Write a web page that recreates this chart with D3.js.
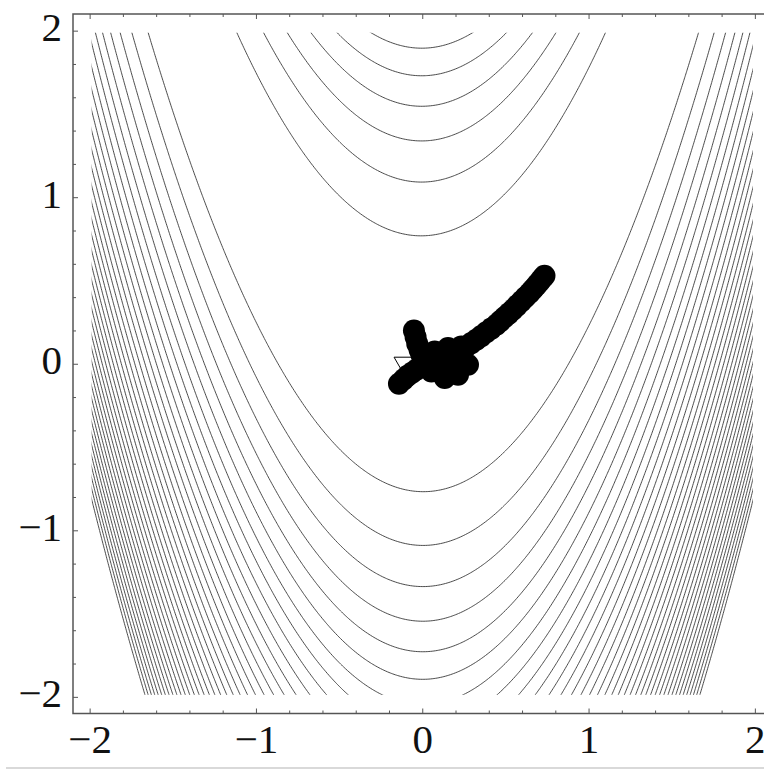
<!DOCTYPE html>
<html lang="en">
<head>
<meta charset="utf-8" />
<title>Rosenbrock contours</title>
<script src="https://cdnjs.cloudflare.com/ajax/libs/d3/7.8.5/d3.min.js"></script>
<style>
  body { margin: 0; background: #fff; }
  svg text { font-family: "Liberation Serif", "Times New Roman", serif; font-size: 41px; fill: #111; }
  .contour { fill: none; stroke: #2a2a2a; stroke-width: 0.85px; }
  .frame { fill: none; stroke: #555; stroke-width: 1.5px; }
  .axis line { stroke: #555; }
</style>
</head>
<body>
<svg id="chart" width="764" height="770"></svg>
<script>
// contour levels of f(x,y) = 100 (y - x^2)^2 + (1 - x)^2
const contourLevels = [60, 120, 180, 240, 300, 360, 420, 480, 540, 600, 660, 720, 780, 840, 900,
  960, 1020, 1080, 1140, 1200, 1260, 1320, 1380, 1440, 1500, 1560, 1620, 1680, 1740, 1800,
  1860, 1920, 1980, 2040, 2100, 2160, 2220, 2280];
const majorTicks = [-2, -1, 0, 1, 2];
const minorTicks = [-1.8, -1.6, -1.4, -1.2, -0.8, -0.6, -0.4, -0.2, 0.2, 0.4, 0.6, 0.8, 1.2, 1.4, 1.6, 1.8];
// optimisation iterates (x, y)
const pathPoints = [
  [-0.050, 0.200], [-0.040, 0.160], [-0.030, 0.120], [-0.016, 0.084], [-0.005, 0.054],
  [-0.140, -0.120], [-0.112, -0.094], [-0.088, -0.072], [-0.062, -0.054], [-0.036, -0.036],
  [0.020, 0.010], [0.075, 0.074], [0.100, 0.000], [0.155, 0.094], [0.235, 0.104],
  [0.055, -0.046], [0.135, -0.086], [0.215, -0.066], [0.275, -0.006], [0.175, 0.014],
  [0.265, 0.104], [0.295, 0.124], [0.325, 0.144], [0.355, 0.166], [0.385, 0.189],
  [0.415, 0.211], [0.446, 0.234], [0.470, 0.256], [0.495, 0.279], [0.520, 0.301],
  [0.545, 0.324], [0.570, 0.349], [0.595, 0.374], [0.620, 0.399], [0.646, 0.425],
  [0.666, 0.447], [0.686, 0.470], [0.705, 0.492], [0.722, 0.513], [0.735, 0.528]
];
const startPoint = [-0.110, 0.005];

const svg = d3.select("#chart");
const x = d3.scaleLinear().domain([-2.1, 2.1]).range([73, 771.5]);
const y = d3.scaleLinear().domain([-2.1, 2.1]).range([713.5, 14]);

// sample the function on a grid
const n = 401;
const gx = d3.scaleLinear().domain([0, n - 1]).range([-2, 2]);
const gy = d3.scaleLinear().domain([0, n - 1]).range([2, -2]);
const values = new Float64Array(n * n);
for (let j = 0; j < n; j++) {
  for (let i = 0; i < n; i++) {
    const xv = gx(i), yv = gy(j);
    values[j * n + i] = 100 * (yv - xv * xv) ** 2 + (1 - xv) ** 2;
  }
}
const cx = d3.scaleLinear().domain([0.5, n - 0.5]).range([x(-2), x(2)]);
const cy = d3.scaleLinear().domain([0.5, n - 0.5]).range([y(2), y(-2)]);
const proj = d3.geoTransform({
  point: function (px, py) { this.stream.point(cx(px), cy(py)); }
});
const geo = d3.geoPath(proj);

// inset a little so the polygon edges along the grid border are hidden
svg.append("clipPath").attr("id", "clip")
  .append("rect")
  .attr("x", x(-2) + 2).attr("y", y(2) + 2)
  .attr("width", x(2) - x(-2) - 4).attr("height", y(-2) - y(2) - 4);

const contours = d3.contours().size([n, n]).thresholds(contourLevels)(values);
svg.append("g")
  .attr("clip-path", "url(#clip)")
  .selectAll("path")
  .data(contours)
  .join("path")
  .attr("class", "contour")
  .attr("d", geo);

// start marker
svg.append("path")
  .attr("d", d3.symbol(d3.symbolTriangle, 170)())
  .attr("transform", `translate(${x(startPoint[0])},${y(startPoint[1])}) rotate(180)`)
  .attr("fill", "#fff")
  .attr("stroke", "#000")
  .attr("stroke-width", 1);

// iterates
svg.append("g")
  .selectAll("circle")
  .data(pathPoints)
  .join("circle")
  .attr("cx", (d) => x(d[0]))
  .attr("cy", (d) => y(d[1]))
  .attr("r", 11)
  .attr("fill", "#000");

// frame
svg.append("rect").attr("class", "frame")
  .attr("x", x(-2.1)).attr("y", y(2.1))
  .attr("width", x(2.1) - x(-2.1)).attr("height", y(-2.1) - y(2.1));

const fmt = d3.format("d");
const addAxis = (axis, tx, ty, vals, size, labels) => {
  const g = svg.append("g").attr("class", "axis")
    .attr("transform", `translate(${tx},${ty})`)
    .call(axis.tickValues(vals).tickSize(-size).tickPadding(labels ? 11 : 0)
      .tickFormat(labels ? fmt : () => ""));
  g.select(".domain").remove();
  g.selectAll("text").attr("font-size", null).attr("font-family", null);
  return g;
};
// left / bottom with labels
addAxis(d3.axisLeft(y), x(-2.1), 0, majorTicks, 5, true)
  .selectAll("text").attr("dy", "0.24em");
addAxis(d3.axisLeft(y), x(-2.1), 0, minorTicks, 3, false);
addAxis(d3.axisBottom(x), 0, y(-2.1), majorTicks, 5, true)
  .selectAll("text").attr("dy", "0.7em");
addAxis(d3.axisBottom(x), 0, y(-2.1), minorTicks, 3, false);
// top / right, ticks only
addAxis(d3.axisTop(x), 0, y(2.1), majorTicks, 5, false);
addAxis(d3.axisTop(x), 0, y(2.1), minorTicks, 3, false);
addAxis(d3.axisRight(y), x(2.1), 0, majorTicks, 5, false);
addAxis(d3.axisRight(y), x(2.1), 0, minorTicks, 3, false);

// faint rule at the bottom of the page
svg.append("line")
  .attr("x1", 6).attr("x2", 764).attr("y1", 768).attr("y2", 768)
  .attr("stroke", "#ccc").attr("stroke-width", 1.5);
</script>
</body>
</html>
